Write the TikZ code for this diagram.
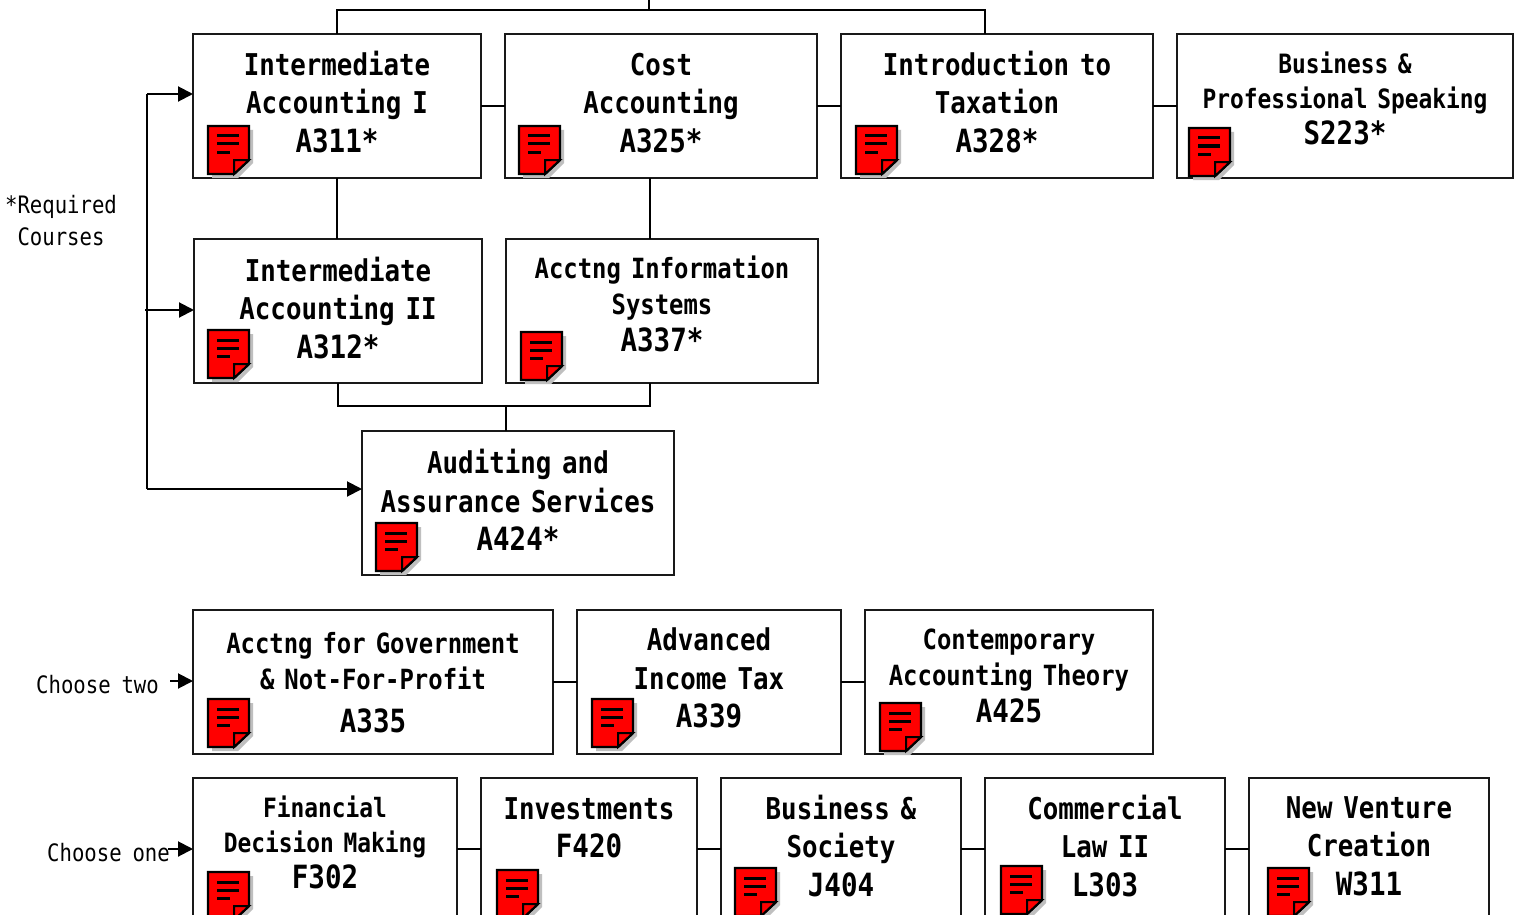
\documentclass[tikz,border=0pt]{standalone}
\usepackage{fontspec}
\usetikzlibrary{arrows.meta}
\newfontfamily\crsfont[FakeStretch=0.86]{DejaVu Sans Mono}
\newcommand\fL{\crsfont\bfseries\fontsize{30}{38.5}\selectfont\spaceskip=0.36em\relax}
\newcommand\fM{\crsfont\bfseries\fontsize{27.8}{35.5}\selectfont\spaceskip=0.36em\relax}
\newcommand\fS{\crsfont\bfseries\fontsize{26.6}{35.5}\selectfont\spaceskip=0.36em\relax}
\newcommand\fR{\crsfont\fontsize{24}{32}\selectfont\spaceskip=0.45em\relax}
\newcommand\code[1]{{\fontsize{32}{36}\selectfont #1}}
\tikzset{
  x=1pt,y=-1pt,
  crsbox/.style={draw=black!90,line width=2pt,fill=white,anchor=north west,inner sep=0pt,outer sep=0pt},
  crstext/.style={inner sep=0pt,align=center,text=black},
  lbl/.style={inner sep=0pt,align=center,text=black,font=\fR},
  conn/.style={draw=black,line width=2pt},
  arr/.style={conn,-{Triangle[length=15pt,width=15pt]}},
  pics/notedoc/.style={code={
    \fill[black!25] (5,5) -- (46,5) -- (46,38) -- (31,53) -- (5,53) -- cycle;
    \draw[line width=2.4pt,fill=red,line join=miter] (1,1) -- (42,1) -- (42,35) -- (27,49) -- (1,49) -- cycle;
    \draw[line width=2pt,fill=red] (27,49) -- (27,35) -- (42,35) -- cycle;
    \draw[line width=3pt] (10,11) -- (32,11) (10,19) -- (32,19) (10,27) -- (23,27);
  }}
}
% name, left, top, right, bottom, icon x, icon y, text cx, text cy, font, text
\newcommand\course[9]{%
  \node[crsbox,minimum width=#4-#2,minimum height=#5-#3] (#1) at (#2,#3) {};
  \pic at (#6,#7) {notedoc};
  \node[crstext,font=#9] (#1t) at (#8) }
\begin{document}
\begin{tikzpicture}
\path[use as bounding box] (0,0) rectangle (1520,915);
\clip (0,0) rectangle (1520,915);

\course{aI}{193}{34}{481}{178}{207}{125}{337,102}{\fL}{Intermediate\\Accounting I\\\code{A311*}};
\course{aC}{505}{34}{817}{178}{518}{125}{661,103}{\fL}{Cost\\Accounting\\\code{A325*}};
\course{aT}{841}{34}{1153}{178}{855}{125}{997,102}{\fL}{Introduction to\\Taxation\\\code{A328*}};
\course{sP}{1177}{34}{1513}{178}{1188}{127}{1345,98}{\fS}{Business \&\\Professional Speaking\\\code{S223*}};
\course{aII}{194}{239}{482}{383}{207}{329}{338,308}{\fL}{Intermediate\\Accounting II\\\code{A312*}};
\course{aS}{506}{239}{818}{383}{520}{331}{662,304}{\fM}{Acctng Information\\Systems\\[2pt]\code{A337*}};
\course{aA}{362}{431}{674}{575}{375}{522}{518,500}{\fL}{Auditing and\\Assurance Services\\\code{A424*}};
\course{aG}{193}{610}{553}{754}{207}{698}{373,683}{\fM}{Acctng for Government\\\& Not-For-Profit\\[8pt]\code{A335}};
\course{aX}{577}{610}{841}{754}{591}{698}{709,678}{\fL}{Advanced\\Income Tax\\\code{A339}};
\course{aH}{865}{610}{1153}{754}{879}{702}{1009,676}{\fM}{Contemporary\\Accounting Theory\\[2pt]\code{A425}};
\course{fD}{193}{778}{457}{950}{207}{871}{325,842}{\fS}{Financial\\Decision Making\\\code{F302}};
\course{fI}{481}{778}{697}{950}{496}{869}{589,828}{\fL}{Investments\\\code{F420}};
\course{jS}{721}{778}{961}{950}{734}{867}{841,846}{\fL}{Business \&\\Society\\\code{J404}};
\course{lC}{985}{778}{1225}{950}{1000}{865}{1105,846}{\fL}{Commercial\\Law II\\\code{L303}};
\course{wV}{1249}{778}{1489}{950}{1267}{867}{1369,846}{\fL}{New Venture\\Creation\\\code{W311}};

\node[lbl,anchor=center] (req) at (61,221) {*Required\\Courses};
\node[lbl,anchor=east] (two) at (159,685) {Choose two};
\node[lbl,anchor=east] (one) at (170,853) {Choose one};

% free ends
\coordinate (rail) at (649,10);
\coordinate (top) at (649,0);
\coordinate (c985) at (985,0);
\coordinate (t1) at (147,94);
\coordinate (t2) at (147,310);
\coordinate (t2s) at (145,310);
\coordinate (t3) at (147,489);
\coordinate (bus) at (506,406);

% top rail
\draw[conn] (aI.north) -- (aI.north |- rail) -- (c985 |- rail) -- (c985 |- aT.north);
\draw[conn] (top) -- (rail);
% row links
\draw[conn] (aI.east) -- (aC.west);
\draw[conn] (aC.east) -- (aT.west);
\draw[conn] (aT.east) -- (sP.west);
\draw[conn] (aG.east) -- (aX.west);
\draw[conn] (aX.east) -- (aH.west);
\coordinate (r5) at (0,849);
\draw[conn] (fD.east |- r5) -- (fI.west |- r5);
\draw[conn] (fI.east |- r5) -- (jS.west |- r5);
\draw[conn] (jS.east |- r5) -- (lC.west |- r5);
\draw[conn] (lC.east |- r5) -- (wV.west |- r5);
% verticals
\draw[conn] (aI.south) -- (aI.south |- aII.north);
\coordinate (c650) at (650,0);
\draw[conn] (aC.south -| c650) -- (aS.north -| c650);
\draw[conn] (aII.south) -- (aII.south |- bus) -- (c650 |- bus) -- (c650 |- aS.south);
\draw[conn] (bus) -- (bus |- aA.north);
% left trunk
\draw[conn] (t1) -- (t3);
\draw[arr] (t1) -- (t1 -| aI.west);
\draw[arr] (t2s) -- (t2s -| aII.west);
\draw[arr] (t3) -- (t3 -| aA.west);
\coordinate (a2) at (170,681);
\coordinate (a1) at (168,849);
\draw[arr] (a2) -- (a2 -| aG.west);
\draw[arr] (a1) -- (a1 -| fD.west);
\end{tikzpicture}
\end{document}
